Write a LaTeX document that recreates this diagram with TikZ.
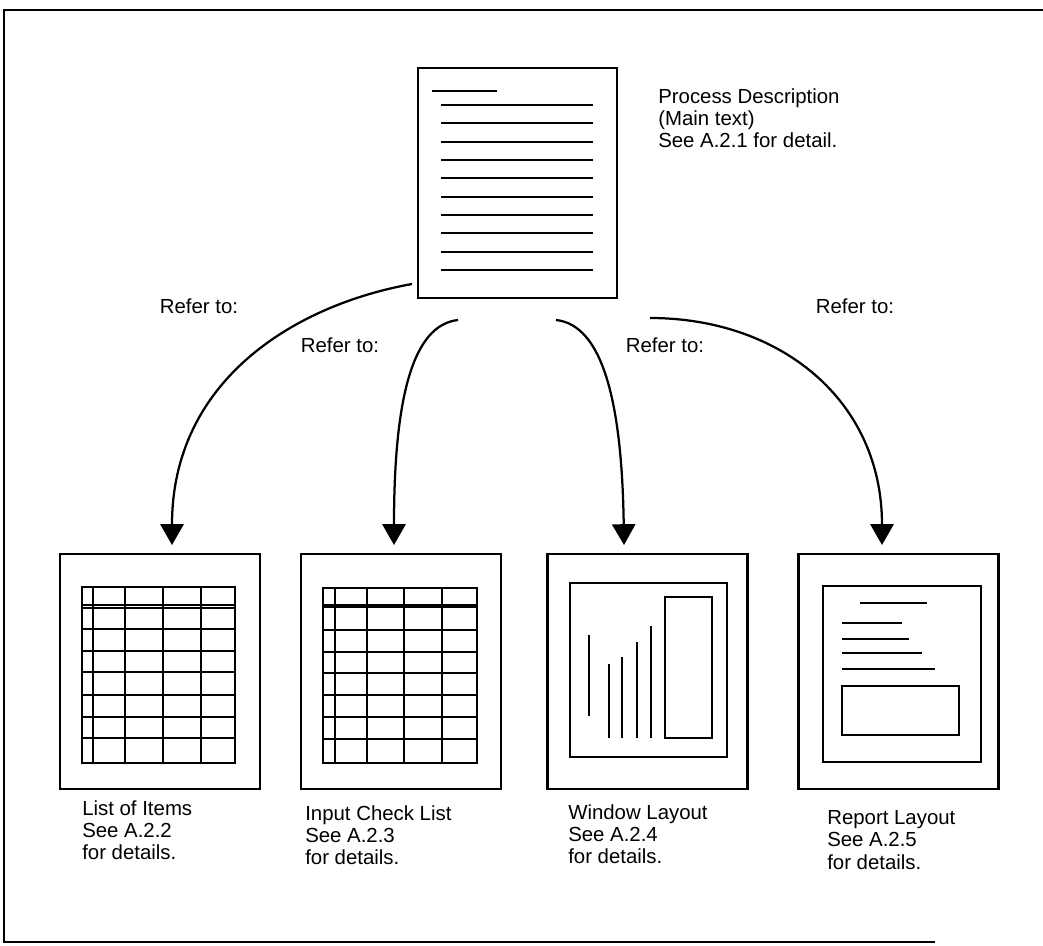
\documentclass[tikz,border=0pt]{standalone}
\usepackage{fontspec}
\setmainfont{Liberation Sans}
\usetikzlibrary{arrows.meta}
\begin{document}
\begin{tikzpicture}[x=0.025cm,y=-0.025cm,line cap=butt,line join=miter,
		font=\fontsize{14.5}{15.9}\selectfont,
		sheet/.style={draw,line width=1.5pt,inner sep=0pt,minimum width=5cm,minimum height=5.875cm},
		caption/.style={align=left,anchor=north west,inner sep=0pt},
		refer/.style={-{Triangle[length=0.52cm,width=0.58cm]},line width=1.6pt},
		ln/.style={line width=1.4pt},
		thin/.style={line width=1pt}]
		\useasboundingbox (0,0) rectangle (1043,945);
		% frame
		\draw[line width=1.3pt] (1043,10) -- (4,10) -- (4,942) -- (935,942);
		% main text sheet
		\node[sheet,minimum width=4.975cm,minimum height=5.75cm] (desc) at (517.5,183) {};
		\draw[ln] (432,91) -- (497,91);
		\foreach \y in {105,123,142,160,178,197,215,233,252,270}
		\draw[ln] (441,\y) -- (593,\y);
		\node[caption] (desctext) at (658,88) {Process Description\\(Main text)\\See A.2.1 for detail.};
		% the four sheets
		\node[sheet] (items) at (160,671.5) {};
		\node[sheet] (check) at (401,671.5) {};
		\node[sheet] (window) at (647.5,671.5) {};
		\node[sheet] (report) at (898.5,671.5) {};
		% list of items
		\draw[line width=1.4pt] (82,587) rectangle (235,763);
		\foreach \x in {93,125,163,201}
		\draw[thin] (\x,587) -- (\x,763);
		\draw[thin] (82,605) -- (235,605) (82,608) -- (235,608);
		\foreach \y in {629,651,672,695,717,738}
		\draw[thin] (82,\y) -- (235,\y);
		% input check list
		\draw[line width=1.4pt] (323,588) rectangle (477,763);
		\foreach \x in {335,367,404,442}
		\draw[thin] (\x,588) -- (\x,763);
		\draw[line width=2.4pt] (323,606) -- (477,606);
		\foreach \y in {630,652,673,695,717,739}
		\draw[thin] (323,\y) -- (477,\y);
		% window layout
		\draw[ln] (570,583) rectangle (727,757);
		\draw[ln] (665,597) rectangle (712,738);
		\draw[ln] (589,635) -- (589,716);
		\foreach \x/\y in {609/664,622/657,637/642,651/626}
		\draw[ln] (\x,\y) -- (\x,738);
		% report layout
		\draw[ln] (823,586) rectangle (981,762);
		\draw[thin] (860,603) -- (927,603);
		\foreach \x/\y in {902/623,909/639,922/653,935/669}
		\draw[ln] (842,\y) -- (\x,\y);
		\draw[ln] (842,686) rectangle (959,735);
		% captions
		\node[caption] (itemstext) at (82,800) {List of Items\\See A.2.2\\for details.};
		\node[caption] (checktext) at (305,805) {Input Check List\\See A.2.3\\for details.};
		\node[caption] (windowtext) at (568,804) {Window Layout\\See A.2.4\\for details.};
		\node[caption] (reporttext) at (827,810) {Report Layout\\See A.2.5\\for details.};
		% connectors
		\coordinate (s1) at (412,284);
		\coordinate (s2) at (458,320);
		\coordinate (s3) at (556,320);
		\coordinate (s4) at (650,318);
		\coordinate (e1) at (172,545);
		\coordinate (e2) at (394,545);
		\coordinate (e3) at (624,545);
		\coordinate (e4) at (882,545);
		\draw[refer] (s1) .. controls (295,305) and (172,380) .. (e1);
		\draw[refer] (s2) .. controls (412,325) and (394,400) .. (e2);
		\draw[refer] (s3) .. controls (602,325) and (622,400) .. (e3);
		\draw[refer] (s4) .. controls (780,318) and (882,400) .. (e4);
		\node (r1) at (199,306) {Refer to:};
		\node (r2) at (340,345) {Refer to:};
		\node (r3) at (665,345) {Refer to:};
		\node (r4) at (855,306) {Refer to:};
	\end{tikzpicture}
\end{document}
